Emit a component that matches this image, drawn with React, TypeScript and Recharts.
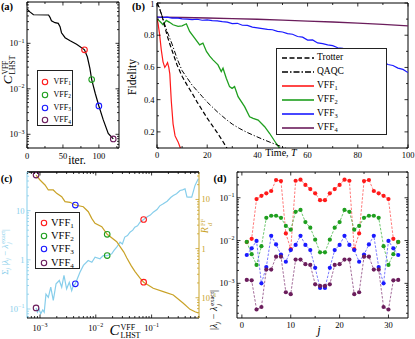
import React from 'react'
import { ComposedChart, Line, XAxis, YAxis, ReferenceLine, Legend } from 'recharts'

const W = 415
const H = 339
const SERIF = '"Liberation Serif", "DejaVu Serif", serif'
const INK = '#000'

const RED = '#ff1a1a'
const GREEN = '#1f9f1f'
const BLUE = '#1a1aff'
const PURPLE = '#6b1d5c'
const SKY = '#87ceeb'
const GOLD = '#c9a227'
const vffColors = [RED, GREEN, BLUE, PURPLE]
const vffIndex = ['1', '2', '3', '4']

// (a) cost function vs optimisation iteration
const costIter = [0, 1, 4, 9, 30, 32, 34, 39, 43.5, 46, 48, 53, 60, 69, 80, 84, 87.5, 90, 95, 100, 106, 113, 120]
const costValue = [0.56, 0.55, 0.49, 0.425, 0.42, 0.372, 0.314, 0.284, 0.275, 0.232, 0.171, 0.133, 0.114, 0.095, 0.072, 0.05, 0.028, 0.016, 0.0079, 0.0042, 0.0021, 0.00105, 0.00079]
const vffIter = [80, 90, 100, 120]
const vffCost = [0.072, 0.016, 0.0042, 0.00079]
const iterTicks = [0, 25, 50, 75, 100, 125]
const iterLabels = [0, 50, 100]

// (b) fidelity vs time
const trotterTime = [0, 1, 2, 3, 4, 5, 6, 8, 10, 12, 14, 16, 18, 20, 22, 24, 26, 28, 30]
const trotterFid = [1, 0.965, 0.92, 0.86, 0.8, 0.75, 0.705, 0.615, 0.545, 0.49, 0.44, 0.385, 0.335, 0.285, 0.24, 0.195, 0.147, 0.095, 0.045]
const qaqcTime = [0, 1, 2, 3, 4, 5, 6, 8, 10, 12, 14, 16, 18, 20, 22, 24, 26, 28, 30, 33, 36, 39, 42, 45, 48, 51, 54]
const qaqcFid = [1, 0.97, 0.92, 0.87, 0.825, 0.785, 0.745, 0.655, 0.58, 0.535, 0.49, 0.455, 0.42, 0.385, 0.355, 0.325, 0.298, 0.272, 0.248, 0.22, 0.196, 0.175, 0.155, 0.136, 0.118, 0.1, 0.084]
const vff1Time = [0, 0.4, 1, 1.7, 2.4, 3.1, 3.7, 4.2, 4.7, 5.1, 5.7, 6.4, 7.2, 8.4, 9.2, 10]
const vff1Fid = [0.9, 0.875, 0.81, 0.71, 0.635, 0.6, 0.615, 0.63, 0.6, 0.56, 0.39, 0.25, 0.175, 0.138, 0.105, 0.07]
const vff2Time = [0, 0.4, 1.2, 2.4, 3.7, 5, 6.4, 8.4, 10, 11.7, 13, 15, 17, 18.3, 19.7, 21, 22.3, 24.3, 25.6, 26.3, 27.6, 28.9, 29.9, 30.9, 32.3, 34.9, 36.9, 38.3, 40.3, 42.9, 44.9, 47.5, 48.9, 50]
const vff2Fid = [0.9, 0.896, 0.885, 0.865, 0.892, 0.88, 0.865, 0.855, 0.858, 0.871, 0.823, 0.782, 0.74, 0.751, 0.699, 0.67, 0.647, 0.616, 0.574, 0.595, 0.533, 0.481, 0.47, 0.481, 0.419, 0.357, 0.294, 0.284, 0.273, 0.232, 0.19, 0.128, 0.097, 0.075]
const vff3Time = [0, 2, 4, 6, 8, 10, 12, 14, 16, 18, 20, 22, 24, 26, 28, 30, 32, 34, 36, 38, 40, 42, 44, 46, 48, 50, 52, 54, 56, 58, 60, 62, 64, 66, 68, 70, 72, 74, 76, 78, 80, 82, 84, 86, 88, 90, 92, 94, 96, 98, 100]
const vff3Fid = [0.913, 0.91, 0.912, 0.906, 0.908, 0.902, 0.9, 0.897, 0.899, 0.893, 0.895, 0.891, 0.889, 0.884, 0.881, 0.872, 0.874, 0.862, 0.861, 0.85, 0.846, 0.841, 0.836, 0.834, 0.824, 0.82, 0.81, 0.806, 0.792, 0.788, 0.77, 0.771, 0.752, 0.748, 0.74, 0.735, 0.722, 0.718, 0.705, 0.698, 0.684, 0.68, 0.662, 0.66, 0.64, 0.636, 0.618, 0.612, 0.596, 0.588, 0.568]
const vff4Time = [0, 10, 20, 30, 40, 50, 60, 70, 80, 90, 100]
const vff4Fid = [0.912, 0.91, 0.907, 0.903, 0.899, 0.894, 0.888, 0.882, 0.875, 0.867, 0.858]
const timeTicks = [0, 10, 20, 30, 40, 50, 60, 70, 80, 90, 100]
const timeLabels = [0, 20, 40, 60, 80, 100]
const fidTicks = [0.1, 0.2, 0.3, 0.4, 0.5, 0.6, 0.7, 0.8, 0.9, 1]
const fidLabels = [0.2, 0.4, 0.6, 0.8, 1]

// (c) eigenvalue error and R vs cost
const errCost = [0.00085, 0.0009, 0.00096, 0.00103, 0.00112, 0.00119, 0.00128, 0.00141, 0.00156, 0.00173, 0.00194, 0.00222, 0.00245, 0.00269, 0.003, 0.00335, 0.0037, 0.00395, 0.0043, 0.0052, 0.006, 0.0073, 0.0085, 0.0097, 0.0119, 0.0136, 0.016, 0.0193, 0.0212, 0.0237, 0.0272, 0.03, 0.033, 0.037, 0.041, 0.046, 0.05, 0.056, 0.062, 0.072, 0.085, 0.095, 0.107, 0.125, 0.14, 0.162, 0.19, 0.22, 0.245, 0.28, 0.323, 0.36, 0.397, 0.43, 0.455, 0.524, 0.6, 0.687]
const errSum = [0.105, 0.086, 0.1, 0.08, 0.096, 0.086, 0.2, 0.173, 0.277, 0.149, 0.325, 0.38, 0.277, 0.48, 0.257, 0.35, 0.237, 0.3, 0.325, 0.56, 0.77, 0.97, 0.89, 1.13, 1.05, 1.22, 1.22, 1.32, 1.55, 1.8, 2.28, 2.1, 2.9, 3.1, 3.64, 4.0, 4.6, 4.9, 5.8, 6.6, 7.6, 8.1, 9.3, 10.5, 12.5, 13.8, 15.5, 18.5, 20.3, 22, 25.7, 26.5, 27.8, 19, 18.8, 18.8, 32.5, 44.5]
const ratioCost = [0.00085, 0.001, 0.00123, 0.00141, 0.00173, 0.00199, 0.00245, 0.00281, 0.00345, 0.0043, 0.00597, 0.00734, 0.00845, 0.00968, 0.0128, 0.016, 0.0237, 0.0272, 0.0318, 0.0358, 0.043, 0.0505, 0.062, 0.072, 0.107, 0.162, 0.245, 0.37, 0.488, 0.6, 0.69]
const ratioValue = [31.4, 24.9, 19.7, 15.6, 15.6, 13.3, 11.4, 9.0, 8.75, 7.7, 7.1, 5.63, 4.13, 3.27, 2.79, 1.95, 1.38, 1.1, 0.85, 0.65, 0.45, 0.34, 0.25, 0.207, 0.156, 0.133, 0.114, 0.077, 0.058, 0.052, 0.049]
const vffCostC = [0.072, 0.016, 0.0043, 0.00085]
const vffErr = [6.6, 1.22, 0.325, 0.105]
const vffRatio = [0.207, 1.95, 7.7, 31.4]

// (d) per-eigenvalue error
const jIndex = [1, 2, 3, 4, 5, 6, 7, 8, 9, 10, 11, 12, 13, 14, 15, 16, 17, 18, 19, 20, 21, 22, 23, 24, 25, 26, 27, 28, 29, 30, 31, 32]
const err1 = [0.0092, 0.011, 0.093, 0.111, 0.127, 0.144, 0.26, 0.245, 0.0147, 0.0063, 0.25, 0.265, 0.2, 0.16, 0.127, 0.088, 0.088, 0.127, 0.16, 0.2, 0.265, 0.25, 0.0063, 0.0147, 0.245, 0.26, 0.144, 0.127, 0.111, 0.093, 0.011, 0.0092]
const err2 = [0.0093, 0.0048, 0.0027, 0.0074, 0.034, 0.038, 0.038, 0.034, 0.022, 0.018, 0.047, 0.052, 0.027, 0.02, 0.0105, 0.0053, 0.0053, 0.0105, 0.02, 0.027, 0.052, 0.047, 0.018, 0.022, 0.034, 0.038, 0.038, 0.034, 0.0074, 0.0027, 0.0048, 0.0093]
const err3 = [0.0046, 0.0066, 0.0098, 0.001, 0.0024, 0.0129, 0.0081, 0.0047, 0.0032, 0.006, 0.0079, 0.0129, 0.0079, 0.006, 0.0023, 0.00078, 0.00078, 0.0023, 0.006, 0.0079, 0.0129, 0.0079, 0.006, 0.0032, 0.0047, 0.0081, 0.0129, 0.0024, 0.001, 0.0098, 0.0066, 0.0046]
const err4 = [0.0012, 0.00118, 0.000245, 0.00028, 0.0021, 0.0021, 0.0042, 0.0042, 0.00062, 0.00056, 0.0036, 0.0036, 0.0028, 0.0027, 0.00095, 0.00087, 0.00087, 0.00095, 0.0027, 0.0028, 0.0036, 0.0036, 0.00056, 0.00062, 0.0042, 0.0042, 0.0021, 0.0021, 0.00028, 0.000245, 0.00118, 0.0012]
const jTicks = [0, 5, 10, 15, 20, 25, 30]
const jLabels = [0, 10, 20, 30]

const pts = (xs: number[], ys: number[]) => xs.map((x, i) => ({ x, y: ys[i] }))

// 1..9 x 10^k inside [lo, hi]
const decadeTicks = (lo: number, hi: number) => {
  const out: number[] = []
  for (let e = Math.floor(Math.log10(lo)); e <= Math.ceil(Math.log10(hi)); e++) {
    for (let m = 1; m < 10; m++) {
      const v = m * Math.pow(10, e)
      if (v >= lo && v <= hi) out.push(v)
    }
  }
  return out
}
const isDecade = (v: number) => Math.abs(Math.log10(v) - Math.round(Math.log10(v))) < 1e-6

const pow10 = (v: number) => {
  const e = Math.round(Math.log10(v))
  if (e === 0) return '1'
  if (e === 1) return '10'
  return (
    <>
      10<tspan dy={-3.6} fontSize={6}>{e < 0 ? '\u2212' + -e : String(e)}</tspan>
    </>
  )
}

type TickSpec = {
  side: 'bottom' | 'left' | 'right'
  span?: number
  isMajor: (v: number) => boolean
  label: (v: number) => React.ReactNode
  color?: string
  pad?: number
}

// inward ticks (matplotlib style), optionally mirrored onto the opposite spine
function tickRenderer(s: TickSpec) {
  return (props: any) => {
    const { x, y, payload } = props
    const v = payload.value
    const major = s.isMajor(v)
    const len = major ? 3.5 : 2
    const c = s.color ?? INK
    const txt = major ? s.label(v) : null
    if (s.side === 'bottom') {
      return (
        <g>
          <line x1={x} x2={x} y1={y} y2={y - len} stroke={c} strokeWidth={0.8} />
          {s.span ? <line x1={x} x2={x} y1={y - s.span} y2={y - s.span + len} stroke={c} strokeWidth={0.8} /> : null}
          {txt != null && (
            <text x={x} y={y + (s.pad ?? 10.5)} textAnchor="middle" fontSize={8.5} fontFamily={SERIF} fill={c}>
              {txt}
            </text>
          )}
        </g>
      )
    }
    const dir = s.side === 'left' ? 1 : -1
    // keep a label sitting on the very top edge inside the picture
    const ty = Math.max(y + 3, 7)
    return (
      <g>
        <line x1={x} x2={x + dir * len} y1={y} y2={y} stroke={c} strokeWidth={0.8} />
        {s.span ? <line x1={x + dir * s.span} x2={x + dir * (s.span - len)} y1={y} y2={y} stroke={c} strokeWidth={0.8} /> : null}
        {txt != null && (
          <text x={x - dir * (s.pad ?? 2.5)} y={ty} textAnchor={s.side === 'left' ? 'end' : 'start'} fontSize={8.5} fontFamily={SERIF} fill={c}>
            {txt}
          </text>
        )}
      </g>
    )
  }
}

const Sub = ({ children }: { children: React.ReactNode }) => (
  <span style={{ fontSize: '0.68em', position: 'relative', top: '0.3em' }}>{children}</span>
)

const Stack = ({ top, bottom, size }: { top: string; bottom: string; size: number }) => (
  <span style={{ display: 'inline-flex', flexDirection: 'column', fontSize: size, lineHeight: 1, verticalAlign: 'middle', fontStyle: 'normal', marginLeft: 1 }}>
    <span>{top}</span>
    <span style={{ fontStyle: bottom === 'j' || bottom === 'd' ? 'italic' : 'normal' }}>{bottom}</span>
  </span>
)

const hollowDot = (p: any) =>
  p.cx == null ? <g key={p.index} /> : <circle key={p.index} cx={p.cx} cy={p.cy} r={2.8} fill="none" stroke={vffColors[p.index]} strokeWidth={1.1} />

const filledDot = (color: string) => (p: any) =>
  p.cx == null ? <g key={p.index} /> : <circle key={p.index} cx={p.cx} cy={p.cy} r={2.1} fill={color} stroke="none" />

const layer: React.CSSProperties = { position: 'absolute', left: 0, top: 0 }

// axes take the whole space outside the plot box, so margins stay zero where an axis sits
const axisCommon = { allowDataOverflow: true, interval: 0 as const, tickSize: 0, tickMargin: 0, tickLine: false }

function MarkerLegend({ w, h, rows, font, mx, tx }: { w: number; h: number; rows: number[]; font: number; mx: number; tx: number }) {
  return (
    <div style={{ position: 'relative', width: w, height: h, boxSizing: 'border-box', border: '1.2px solid #222', background: '#fff', fontFamily: SERIF, fontSize: font, color: INK }}>
      {vffIndex.map((n, i) => (
        <div key={n} style={{ position: 'absolute', left: 0, top: rows[i], height: 0 }}>
          <svg width={8} height={8} style={{ position: 'absolute', left: mx - 4, top: -4 }}>
            <circle cx={4} cy={4} r={2.7} fill="none" stroke={vffColors[i]} strokeWidth={1.1} />
          </svg>
          <span style={{ position: 'absolute', left: tx, top: 0, transform: 'translateY(-50%)', whiteSpace: 'nowrap', lineHeight: 1 }}>
            VFF<Sub>{n}</Sub>
          </span>
        </div>
      ))}
    </div>
  )
}

function LineLegend() {
  const rows = [
    { name: 'Trotter', sub: '', color: INK, dash: '5 2.5' },
    { name: 'QAQC', sub: '', color: INK, dash: '6 2 1.5 2' },
    { name: 'VFF', sub: '1', color: RED, dash: '' },
    { name: 'VFF', sub: '2', color: GREEN, dash: '' },
    { name: 'VFF', sub: '3', color: BLUE, dash: '' },
    { name: 'VFF', sub: '4', color: PURPLE, dash: '' },
  ]
  const ys = [8.7, 22.7, 37, 51, 65.3, 78.7]
  return (
    <div style={{ position: 'relative', width: 111, height: 87, boxSizing: 'border-box', border: '1.2px solid #222', background: '#fff', fontFamily: SERIF, fontSize: 9.5, color: INK }}>
      {rows.map((r, i) => (
        <div key={i} style={{ position: 'absolute', left: 0, top: ys[i], height: 0 }}>
          <svg width={32} height={6} style={{ position: 'absolute', left: 5, top: -3 }}>
            <line x1={0} x2={32} y1={3} y2={3} stroke={r.color} strokeWidth={1.6} strokeDasharray={r.dash || undefined} />
          </svg>
          <span style={{ position: 'absolute', left: 40, top: 0, transform: 'translateY(-50%)', whiteSpace: 'nowrap', lineHeight: 1 }}>
            {r.name}
            {r.sub ? <Sub>{r.sub}</Sub> : null}
          </span>
        </div>
      ))}
    </div>
  )
}

function PanelA() {
  const L = 27, T = 2, R = 119, B = 148
  const yDom: [number, number] = [5e-4, 0.81]
  return (
    <div style={layer}>
      <ComposedChart width={W} height={H} margin={{ left: 0, top: T, right: W - R, bottom: 0 }}>
        <XAxis {...axisCommon} dataKey="x" type="number" domain={[0, 128]} ticks={iterTicks} height={H - B} axisLine={{ stroke: INK }}
          tick={tickRenderer({ side: 'bottom', span: B - T, isMajor: (v) => iterLabels.includes(v), label: (v) => String(v) })} />
        <YAxis {...axisCommon} type="number" scale="log" domain={yDom} ticks={decadeTicks(yDom[0], yDom[1])} width={L} axisLine={{ stroke: INK }}
          tick={tickRenderer({ side: 'left', span: R - L, isMajor: isDecade, label: pow10 })} />
        <ReferenceLine y={yDom[1]} stroke={INK} />
        <ReferenceLine x={128} stroke={INK} />
        <Line data={pts(costIter, costValue)} dataKey="y" stroke={INK} strokeWidth={1.2} dot={false} activeDot={false} isAnimationActive={false} />
        <Line data={pts(vffIter, vffCost)} dataKey="y" stroke="none" dot={hollowDot} activeDot={false} isAnimationActive={false} />
        <Legend verticalAlign="middle" align="center" wrapperStyle={{ left: 37, top: 70, width: 36, height: 56 }}
          content={() => <MarkerLegend w={36} h={56} rows={[10.5, 23.5, 36.5, 49]} font={8} mx={7} tx={15.5} />} />
      </ComposedChart>
    </div>
  )
}

function PanelB() {
  const L = 157, T = 3, R = 408, B = 148
  return (
    <div style={layer}>
      <ComposedChart width={W} height={H} margin={{ left: 0, top: T, right: W - R, bottom: 0 }}>
        <XAxis {...axisCommon} dataKey="x" type="number" domain={[0, 100]} ticks={timeTicks} height={H - B} axisLine={{ stroke: INK }}
          tick={tickRenderer({ side: 'bottom', span: B - T, isMajor: (v) => timeLabels.includes(v), label: (v) => String(v), pad: 10 })} />
        <YAxis {...axisCommon} type="number" domain={[0.1, 1]} ticks={fidTicks} width={L} axisLine={{ stroke: INK }}
          tick={tickRenderer({ side: 'left', span: R - L, isMajor: (v) => fidLabels.includes(v), label: (v) => (v === 1 ? '1' : v.toFixed(1)) })} />
        <ReferenceLine y={1} stroke={INK} />
        <ReferenceLine x={100} stroke={INK} />
        <Line data={pts(vff4Time, vff4Fid)} dataKey="y" stroke={PURPLE} strokeWidth={1.3} dot={false} activeDot={false} isAnimationActive={false} />
        <Line data={pts(vff3Time, vff3Fid)} dataKey="y" stroke={BLUE} strokeWidth={1.2} dot={false} activeDot={false} isAnimationActive={false} />
        <Line data={pts(vff2Time, vff2Fid)} dataKey="y" stroke={GREEN} strokeWidth={1.3} dot={false} activeDot={false} isAnimationActive={false} />
        <Line data={pts(vff1Time, vff1Fid)} dataKey="y" stroke={RED} strokeWidth={1.2} dot={false} activeDot={false} isAnimationActive={false} />
        <Line data={pts(qaqcTime, qaqcFid)} dataKey="y" stroke={INK} strokeWidth={1} strokeDasharray="5 2 1.2 2" dot={false} activeDot={false} isAnimationActive={false} />
        <Line data={pts(trotterTime, trotterFid)} dataKey="y" stroke={INK} strokeWidth={1.2} strokeDasharray="4.5 2.5" dot={false} activeDot={false} isAnimationActive={false} />
        <Legend verticalAlign="middle" align="center" wrapperStyle={{ left: 276, top: 48, width: 111, height: 87 }} content={() => <LineLegend />} />
      </ComposedChart>
    </div>
  )
}

function PanelC() {
  const L = 27, T = 172, R = 199, B = 318
  const xDom: [number, number] = [5.85e-4, 0.707]
  const lDom: [number, number] = [0.0656, 61]
  const rDom: [number, number] = [0.0387, 36.2]
  return (
    <div style={layer}>
      <ComposedChart width={W} height={H} margin={{ left: 0, top: T, right: 0, bottom: 0 }}>
        <XAxis {...axisCommon} dataKey="x" type="number" scale="log" domain={xDom} ticks={decadeTicks(xDom[0], xDom[1])} height={H - B} axisLine={{ stroke: INK }}
          tick={tickRenderer({ side: 'bottom', span: B - T, isMajor: isDecade, label: pow10, pad: 13 })} />
        <YAxis {...axisCommon} yAxisId="L" type="number" scale="log" domain={lDom} ticks={decadeTicks(lDom[0], lDom[1])} width={L} axisLine={{ stroke: SKY }}
          tick={tickRenderer({ side: 'left', isMajor: isDecade, label: pow10, color: SKY })} />
        <YAxis {...axisCommon} yAxisId="R" orientation="right" type="number" scale="log" domain={rDom} ticks={decadeTicks(rDom[0], rDom[1])} width={W - R} axisLine={{ stroke: GOLD }}
          tick={tickRenderer({ side: 'right', isMajor: isDecade, label: pow10, color: GOLD })} />
        <ReferenceLine yAxisId="L" y={lDom[1]} stroke="#333" strokeWidth={2} />
        <Line yAxisId="L" data={pts(errCost, errSum)} dataKey="y" stroke={SKY} strokeWidth={1.2} dot={false} activeDot={false} isAnimationActive={false} />
        <Line yAxisId="R" data={pts(ratioCost, ratioValue)} dataKey="y" stroke={GOLD} strokeWidth={1.2} dot={false} activeDot={false} isAnimationActive={false} />
        <Line yAxisId="L" data={pts(vffCostC, vffErr)} dataKey="y" stroke="none" dot={hollowDot} activeDot={false} isAnimationActive={false} />
        <Line yAxisId="R" data={pts(vffCostC, vffRatio)} dataKey="y" stroke="none" dot={hollowDot} activeDot={false} isAnimationActive={false} />
        <Legend verticalAlign="middle" align="center" wrapperStyle={{ left: 35, top: 211.5, width: 45, height: 57.5 }}
          content={() => <MarkerLegend w={45} h={57.5} rows={[10, 23.3, 36.6, 50.3]} font={10.5} mx={7.7} tx={15} />} />
      </ComposedChart>
    </div>
  )
}

function PanelD() {
  const L = 237, T = 172, R = 408, B = 318
  const yDom: [number, number] = [1.55e-4, 0.4]
  const series = [
    { ys: err1, color: RED, line: '#ff6a6a' },
    { ys: err2, color: GREEN, line: '#5cbf5c' },
    { ys: err3, color: BLUE, line: '#6a6aff' },
    { ys: err4, color: PURPLE, line: '#9a5c8e' },
  ]
  return (
    <div style={layer}>
      <ComposedChart width={W} height={H} margin={{ left: 0, top: T, right: W - R, bottom: 0 }}>
        <XAxis {...axisCommon} dataKey="x" type="number" domain={[-1, 34]} ticks={jTicks} height={H - B} axisLine={{ stroke: INK }}
          tick={tickRenderer({ side: 'bottom', span: B - T, isMajor: (v) => jLabels.includes(v), label: (v) => String(v), pad: 9.5 })} />
        <YAxis {...axisCommon} type="number" scale="log" domain={yDom} ticks={decadeTicks(yDom[0], yDom[1])} width={L} axisLine={{ stroke: INK }}
          tick={tickRenderer({ side: 'left', span: R - L, isMajor: isDecade, label: pow10 })} />
        <ReferenceLine y={yDom[1]} stroke={INK} />
        <ReferenceLine x={34} stroke={INK} />
        {series.map((s, i) => (
          <Line key={i} data={pts(jIndex, s.ys)} dataKey="y" stroke={s.line} strokeWidth={0.9} strokeDasharray="2.5 1.5" dot={filledDot(s.color)} activeDot={false} isAnimationActive={false} />
        ))}
      </ComposedChart>
    </div>
  )
}

const Txt = ({ x, y, size, color, rot, bold, children }: { x: number; y: number; size: number; color?: string; rot?: boolean; bold?: boolean; children: React.ReactNode }) => (
  <div style={{ position: 'absolute', left: x, top: y, transform: `translate(-50%, -50%)${rot ? ' rotate(-90deg)' : ''}`, fontFamily: SERIF, fontSize: size, color: color ?? INK, whiteSpace: 'nowrap', lineHeight: 1, fontWeight: bold ? 700 : 400 }}>
    {children}
  </div>
)

function Labels() {
  return (
    <>
      <Txt x={7} y={6.5} size={10.5} bold>(a)</Txt>
      <Txt x={138.5} y={6.5} size={10.5} bold>(b)</Txt>
      <Txt x={6.5} y={179} size={10.5} bold>(c)</Txt>
      <Txt x={220} y={179} size={10.5} bold>(d)</Txt>

      <Txt x={9} y={70} size={13} rot>
        <i>C</i>
        <Stack top="VFF" bottom="LHST" size={7.5} />
      </Txt>
      <Txt x={77} y={161} size={11.5}>iter.</Txt>

      <Txt x={133} y={77} size={11.5} rot>Fidelity</Txt>
      <Txt x={281} y={153} size={10}>
        Time, <i>T</i>
      </Txt>

      <Txt x={125} y={331} size={15}>
        <i>C</i>
        <Stack top="VFF" bottom="LHST" size={8} />
      </Txt>
      <Txt x={5.5} y={252} size={9} color={SKY} rot>
        {'\u03a3'}
        <Sub><i>j</i></Sub> |<i>{'\u03bb'}</i>
        <Sub><i>j</i></Sub> {'\u2212'} <i>{'\u03bb'}</i>
        <Stack top="exact" bottom="j" size={6} />|
      </Txt>
      <Txt x={206} y={226} size={10} color={GOLD} rot>
        <i>R</i>
        <Stack top="FF" bottom="d" size={6.5} />
      </Txt>

      <Txt x={215} y={310} size={10} rot>
        |<i>{'\u03bb'}</i>
        <Sub><i>j</i></Sub> {'\u2212'} <i>{'\u03bb'}</i>
        <Stack top="exact" bottom="j" size={6.5} />|
      </Txt>
      <Txt x={319} y={330} size={12}>
        <i>j</i>
      </Txt>
    </>
  )
}

export default function App() {
  return (
    <div style={{ position: 'absolute', left: 0, top: 0, width: W, height: H, background: '#fff', overflow: 'hidden', fontFamily: SERIF }}>
      <PanelA />
      <PanelB />
      <PanelC />
      <PanelD />
      <Labels />
    </div>
  )
}
